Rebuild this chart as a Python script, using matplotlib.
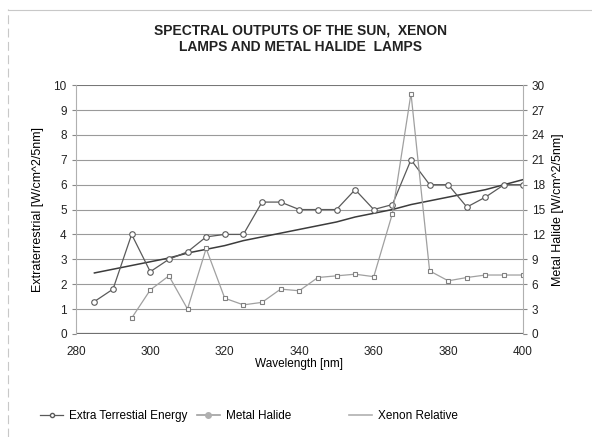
import numpy as np
import matplotlib.pyplot as plt
from matplotlib.lines import Line2D

plt.rcParams['font.family'] = ['Liberation Sans', 'DejaVu Sans']

# longueurs d'onde (nm)
wavelength = np.arange(285, 401, 5)

# énergie extraterrestre (axe gauche)
extra_terr = [1.3, 1.8, 4.0, 2.5, 3.0, 3.3, 3.9, 4.0, 4.0, 5.3, 5.3, 5.0,
              5.0, 5.0, 5.8, 5.0, 5.2, 7.0, 6.0, 6.0, 5.1, 5.5, 6.0, 6.0]
# halogénures métalliques (axe droit)
metal_halide = [np.nan, np.nan, 1.9, 5.3, 7.0, 3.0, 10.3, 4.3, 3.5, 3.8, 5.4, 5.2,
                6.8, 7.0, 7.2, 6.9, 14.5, 29.0, 7.6, 6.4, 6.8, 7.1, 7.1, 7.1]
# xénon relatif (axe gauche)
xenon = [2.45, 2.6, 2.75, 2.9, 3.05, 3.25, 3.4, 3.55, 3.75, 3.9, 4.05, 4.2,
         4.35, 4.5, 4.7, 4.85, 5.0, 5.2, 5.35, 5.5, 5.65, 5.8, 6.0, 6.2]

c_et = '#5a5a5a'
c_mh = '#a0a0a0'
c_xe = '#3c3c3c'

fig = plt.figure(figsize=(5.92, 4.37), dpi=100)
ax = fig.add_axes([0.128, 0.236, 0.755, 0.569])
ax2 = ax.twinx()

ax.set_xlim(280, 400)
ax.set_ylim(0, 10)
ax2.set_ylim(0, 30)
ax.set_xticks(np.arange(280, 401, 20))
ax.set_yticks(np.arange(0, 11, 1))
ax2.set_yticks(np.arange(0, 31, 3))

ax.grid(axis='y', color='#9a9a9a', linewidth=0.8)
ax.set_axisbelow(True)
ax.axhline(0, color='#707070', linewidth=1.6)
ax.axhline(10, color='#707070', linewidth=1.2)

for a in (ax, ax2):
    for s in a.spines.values():
        s.set_visible(False)
ax.spines['left'].set_visible(True)
ax.spines['left'].set_color('#b0b0b0')
ax2.spines['right'].set_visible(True)
ax2.spines['right'].set_color('#b0b0b0')

ax.tick_params(axis='both', labelsize=8.5, colors='#222222', length=3, color='#888888')
ax.tick_params(axis='x', length=0, pad=9)
ax2.tick_params(axis='y', labelsize=8.5, colors='#222222', length=3, color='#888888')

l_xe, = ax.plot(wavelength, xenon, color=c_xe, linewidth=1.1)
l_et, = ax.plot(wavelength, extra_terr, color=c_et, linewidth=0.9, marker='o',
                markersize=4, markerfacecolor='white', markeredgecolor=c_et,
                markeredgewidth=0.8)
l_mh, = ax2.plot(wavelength, metal_halide, color=c_mh, linewidth=0.9, marker='s',
                 markersize=3.5, markerfacecolor='white', markeredgecolor='#808080',
                 markeredgewidth=0.8)

ax.set_xlabel('Wavelength [nm]', fontsize=8.5, labelpad=0)
ax.set_ylabel('Extraterrestrial [W/cm^2/5nm]', fontsize=9, labelpad=7)
ax2.set_ylabel('Metal Halide [W/cm^2/5nm]', fontsize=9, labelpad=5)

fig.text(0.507, 0.912, 'SPECTRAL OUTPUTS OF THE SUN,  XENON\nLAMPS AND METAL HALIDE  LAMPS',
         ha='center', va='center', fontsize=10, fontweight='bold',
         linespacing=1.2, color='#222222')

# légende, trois entrées espacées comme l'original
h_et = Line2D([], [], color=c_et, linewidth=0.9, marker='o', markersize=3,
              markerfacecolor='white', markeredgecolor=c_et)
h_mh = Line2D([], [], color=c_mh, linewidth=1.2, marker='o', markersize=4,
              markerfacecolor='#b0b0b0', markeredgecolor='#b0b0b0')
h_xe = Line2D([], [], color='#b0b0b0', linewidth=1.2)
for h, lab, x in [(h_et, 'Extra Terrestial Energy', 0.058),
                  (h_mh, 'Metal Halide', 0.3226),
                  (h_xe, 'Xenon Relative', 0.579)]:
    fig.legend(handles=[h], labels=[lab], loc='center left',
               bbox_to_anchor=(x, 0.048), frameon=False, fontsize=8.5,
               handlelength=1.95, handletextpad=0.5, borderpad=0)

# bordure du cadre
fig.add_artist(Line2D([0.014, 0.014], [0.0, 0.98], color='#c8c8c8', linewidth=0.8,
                      linestyle=(0, (8, 4))))
fig.add_artist(Line2D([0.014, 1.0], [0.977, 0.977], color='#c8c8c8', linewidth=0.8))

fig.savefig('out.png', dpi=100)
